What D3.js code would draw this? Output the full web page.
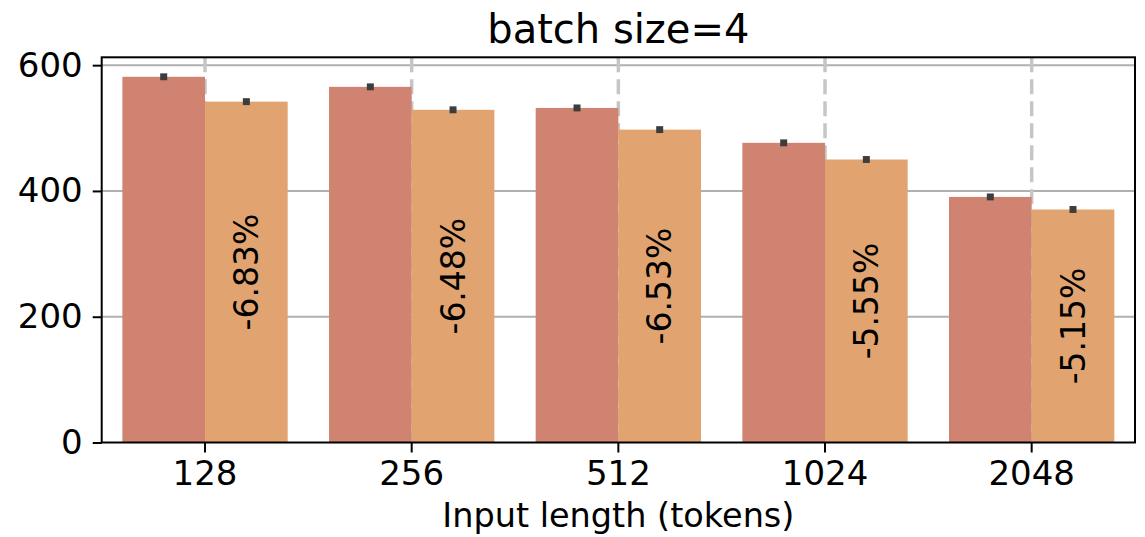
<!DOCTYPE html>
<html>
<head>
<meta charset="utf-8">
<script src="https://cdn.jsdelivr.net/npm/d3@7"></script>
<style>
  body { margin: 0; background: #fff; }
  text { font-family: "DejaVu Sans", sans-serif; fill: #000; }
</style>
</head>
<body>
<svg id="chart" width="1145" height="537"></svg>
<script>
// data
const categories = ["128", "256", "512", "1024", "2048"];
const baseline = [581.5, 565.5, 532, 476.5, 390.5];
const optimized = [542, 529, 497.5, 450, 370.5];
const baseErr = [5.5, 5.5, 5.5, 5.5, 5.5];
const optErr = [5.5, 5.5, 5.5, 5.5, 5.5];
const changeLabels = ["-6.83%", "-6.48%", "-6.53%", "-5.55%", "-5.15%"];
const yTicks = [0, 200, 400, 600];

const margin = { left: 101.7, right: 10, top: 57.3, bottom: 94.5 };
const width = 1145, height = 537;

const svg = d3.select("#chart");

const x = d3.scaleBand()
  .domain(categories)
  .range([margin.left, width - margin.right])
  .paddingInner(0)
  .paddingOuter(0);

const y = d3.scaleLinear()
  .domain([0, 612.5])
  .range([height - margin.bottom, margin.top]);

const barW = x.bandwidth() * 0.8 / 2;
const colors = { base: "#d08371", opt: "#e1a470" };

// horizontal grid
svg.append("g")
  .selectAll("line")
  .data(yTicks.filter(d => d > 0))
  .enter()
  .append("line")
  .attr("x1", margin.left)
  .attr("x2", width - margin.right)
  .attr("y1", d => y(d))
  .attr("y2", d => y(d))
  .attr("stroke", "#b0b0b0")
  .attr("stroke-width", 2);

// dashed vertical lines at category centres
svg.append("g")
  .selectAll("line")
  .data(categories)
  .enter()
  .append("line")
  .attr("x1", d => x(d) + x.bandwidth() / 2)
  .attr("x2", d => x(d) + x.bandwidth() / 2)
  .attr("y1", margin.top)
  .attr("y2", height - margin.bottom)
  .attr("stroke", "#c6c6c6")
  .attr("stroke-width", 3.5)
  .attr("stroke-dasharray", "15,7");

const rows = categories.map((c, i) => ({
  cat: c, base: baseline[i], opt: optimized[i],
  be: baseErr[i], oe: optErr[i], label: changeLabels[i]
}));

const groups = svg.append("g")
  .selectAll("g")
  .data(rows)
  .enter()
  .append("g")
  .attr("transform", d => `translate(${x(d.cat) + x.bandwidth() / 2},0)`);

groups.append("rect")
  .attr("x", -barW)
  .attr("width", barW)
  .attr("y", d => y(d.base))
  .attr("height", d => y(0) - y(d.base))
  .attr("fill", colors.base);

groups.append("rect")
  .attr("x", 0)
  .attr("width", barW)
  .attr("y", d => y(d.opt))
  .attr("height", d => y(0) - y(d.opt))
  .attr("fill", colors.opt);

// tiny error bars
groups.append("line")
  .attr("x1", -barW / 2).attr("x2", -barW / 2)
  .attr("y1", d => y(d.base + d.be))
  .attr("y2", d => y(d.base - d.be))
  .attr("stroke", "#3d3d3d")
  .attr("stroke-width", 7);

groups.append("line")
  .attr("x1", barW / 2).attr("x2", barW / 2)
  .attr("y1", d => y(d.opt + d.oe))
  .attr("y2", d => y(d.opt - d.oe))
  .attr("stroke", "#3d3d3d")
  .attr("stroke-width", 7);

// percentage labels, rotated, centred in the orange bar
groups.append("text")
  .attr("transform", d => `translate(${barW / 2},${(y(d.opt) + y(0)) / 2}) rotate(-90)`)
  .attr("text-anchor", "middle")
  .attr("dy", "0.35em")
  .style("font-size", "33px")
  .text(d => d.label);

// axes
const xAxis = svg.append("g")
  .attr("transform", `translate(0,${y(0)})`)
  .call(d3.axisBottom(x).tickSize(10).tickPadding(8));
xAxis.select(".domain").remove();
xAxis.selectAll(".tick line").attr("stroke", "#000").attr("stroke-width", 2);
xAxis.selectAll("text").style("font-size", "34px").attr("fill", "#000");

const yAxis = svg.append("g")
  .attr("transform", `translate(${margin.left},0)`)
  .call(d3.axisLeft(y).tickValues(yTicks).tickSize(9).tickPadding(10));
yAxis.select(".domain").remove();
yAxis.selectAll(".tick line").attr("stroke", "#000").attr("stroke-width", 2);
yAxis.selectAll("text").style("font-size", "34px").attr("fill", "#000");

// frame
svg.append("rect")
  .attr("x", margin.left)
  .attr("y", margin.top)
  .attr("width", width - margin.right - margin.left)
  .attr("height", y(0) - margin.top)
  .attr("fill", "none")
  .attr("stroke", "#000")
  .attr("stroke-width", 2);

// title and x label
svg.append("text")
  .attr("x", (margin.left + width - margin.right) / 2)
  .attr("y", 43)
  .attr("text-anchor", "middle")
  .style("font-size", "40px")
  .text("batch size=4");

svg.append("text")
  .attr("x", (margin.left + width - margin.right) / 2)
  .attr("y", 527)
  .attr("text-anchor", "middle")
  .style("font-size", "33.5px")
  .text("Input length (tokens)");
</script>
</body>
</html>
